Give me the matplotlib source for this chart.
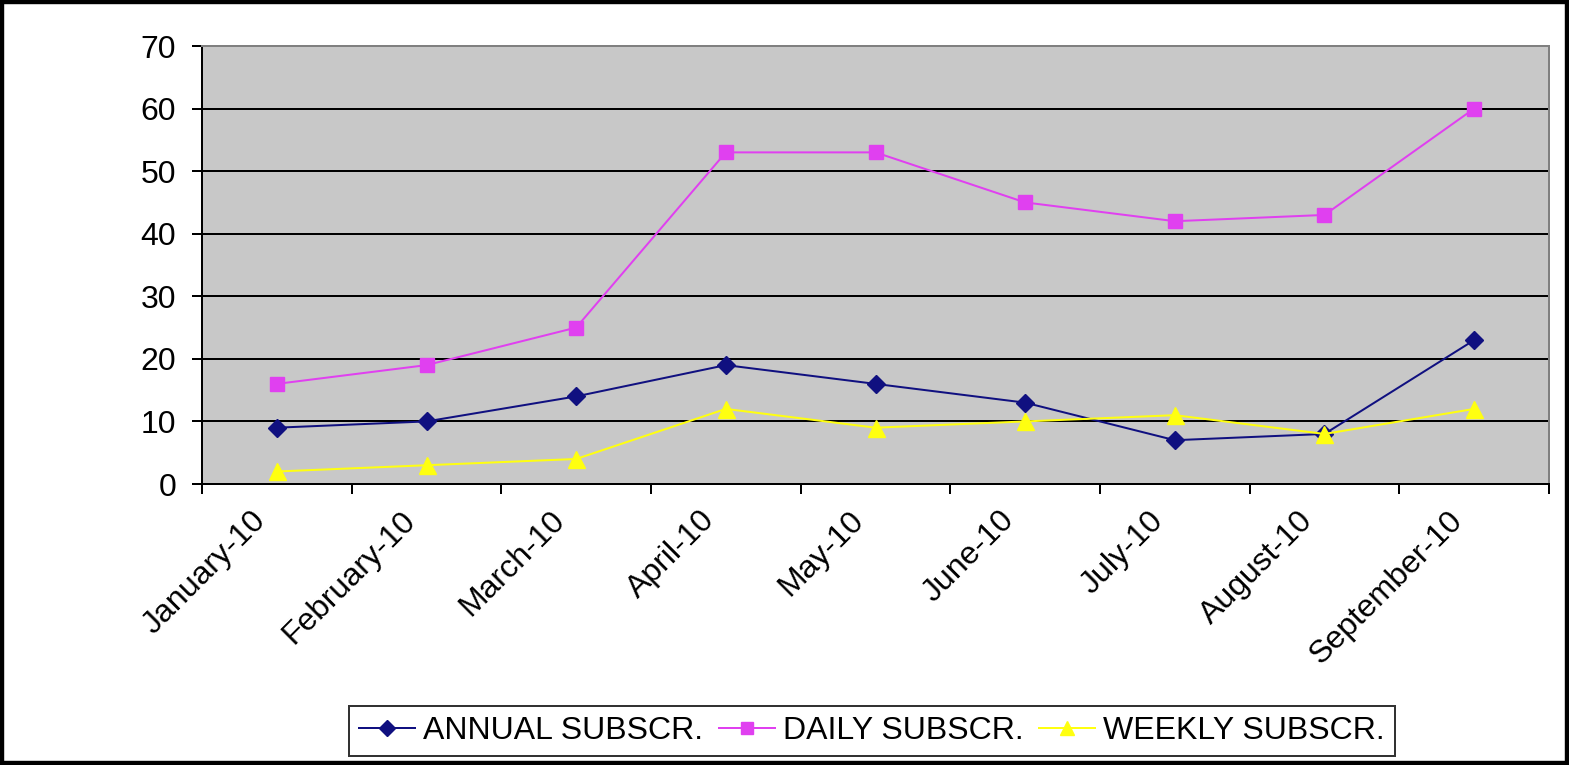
#!/usr/bin/env python3
"""Monthly subscriptions line chart (Excel-style), Jan-Sep 2010."""

import matplotlib

matplotlib.use("Agg")
import matplotlib.pyplot as plt
from matplotlib.patches import Rectangle
from matplotlib.transforms import ScaledTranslation
import numpy as np

months = [
    "January-10", "February-10", "March-10", "April-10", "May-10",
    "June-10", "July-10", "August-10", "September-10",
]
annual = [9, 10, 14, 19, 16, 13, 7, 8, 23]
daily = [16, 19, 25, 53, 53, 45, 42, 43, 60]
weekly = [2, 3, 4, 12, 9, 10, 11, 8, 12]
y_ticks = [0, 10, 20, 30, 40, 50, 60, 70]

plt.rcParams.update({"font.family": ["Liberation Sans", "DejaVu Sans"]})

W, H = 1569, 765
PX = 72 / 100  # points per pixel at dpi 100
fig = plt.figure(figsize=(W / 100, H / 100), dpi=100)
ax = fig.add_axes([202 / W, 1 - 484 / H, (1549 - 202) / W, (484 - 46) / H])
ax.set_facecolor("#C8C8C8")

x = np.arange(len(months))
ax.plot(x, annual, color="#101080", lw=2 * PX, marker="D", ms=13 * PX,
        mec="#101080", label="ANNUAL SUBSCR.", zorder=4)
ax.plot(x, daily, color="#E040F0", lw=2 * PX, marker="s", ms=14 * PX,
        mec="#E040F0", label="DAILY SUBSCR.", zorder=3)
ax.plot(x, weekly, color="#FFFF10", lw=2 * PX, marker="^", ms=17 * PX,
        mec="#FFFF10", label="WEEKLY SUBSCR.", zorder=5)

ax.set_xlim(-0.5, len(months) - 0.5)
ax.set_ylim(0, 70)
ax.set_yticks(y_ticks)
ax.yaxis.grid(True, color="black", lw=2 * PX)
ax.set_axisbelow(True)

ax.set_xticks(x)
ax.set_xticklabels(months, rotation=45, ha="right", va="center",
                   rotation_mode="anchor", fontsize=23)
ax.set_xticks(np.arange(-0.5, len(months)), minor=True)
ax.tick_params(axis="x", which="major", length=0, pad=32 * PX)
ax.tick_params(axis="x", which="minor", length=10 * PX, width=2 * PX, direction="out")
ax.tick_params(axis="y", length=10 * PX, width=2 * PX, labelsize=23, pad=16 * PX)
shift = ScaledTranslation(-16 / 100, 0, fig.dpi_scale_trans)
for lbl in ax.get_xticklabels():
    lbl.set_transform(lbl.get_transform() + shift)

for side in ("left", "bottom"):
    ax.spines[side].set_color("black")
    ax.spines[side].set_linewidth(2 * PX)
for side in ("top", "right"):
    ax.spines[side].set_color("#808080")
    ax.spines[side].set_linewidth(2 * PX)

leg = fig.legend(loc="center", bbox_to_anchor=(872 / W, 1 - 731 / H), ncol=3,
                 fontsize=23, frameon=True, fancybox=False, edgecolor="black",
                 handlelength=1.75, handletextpad=0.25, columnspacing=0.5,
                 borderpad=0.3, markerscale=0.85)
leg.get_frame().set_linewidth(2 * PX)

fig.patches.append(Rectangle((0, 0), 1, 1, transform=fig.transFigure,
                             fill=False, edgecolor="black", lw=6 * PX * 1.4))

fig.savefig("out.png", dpi=100)
